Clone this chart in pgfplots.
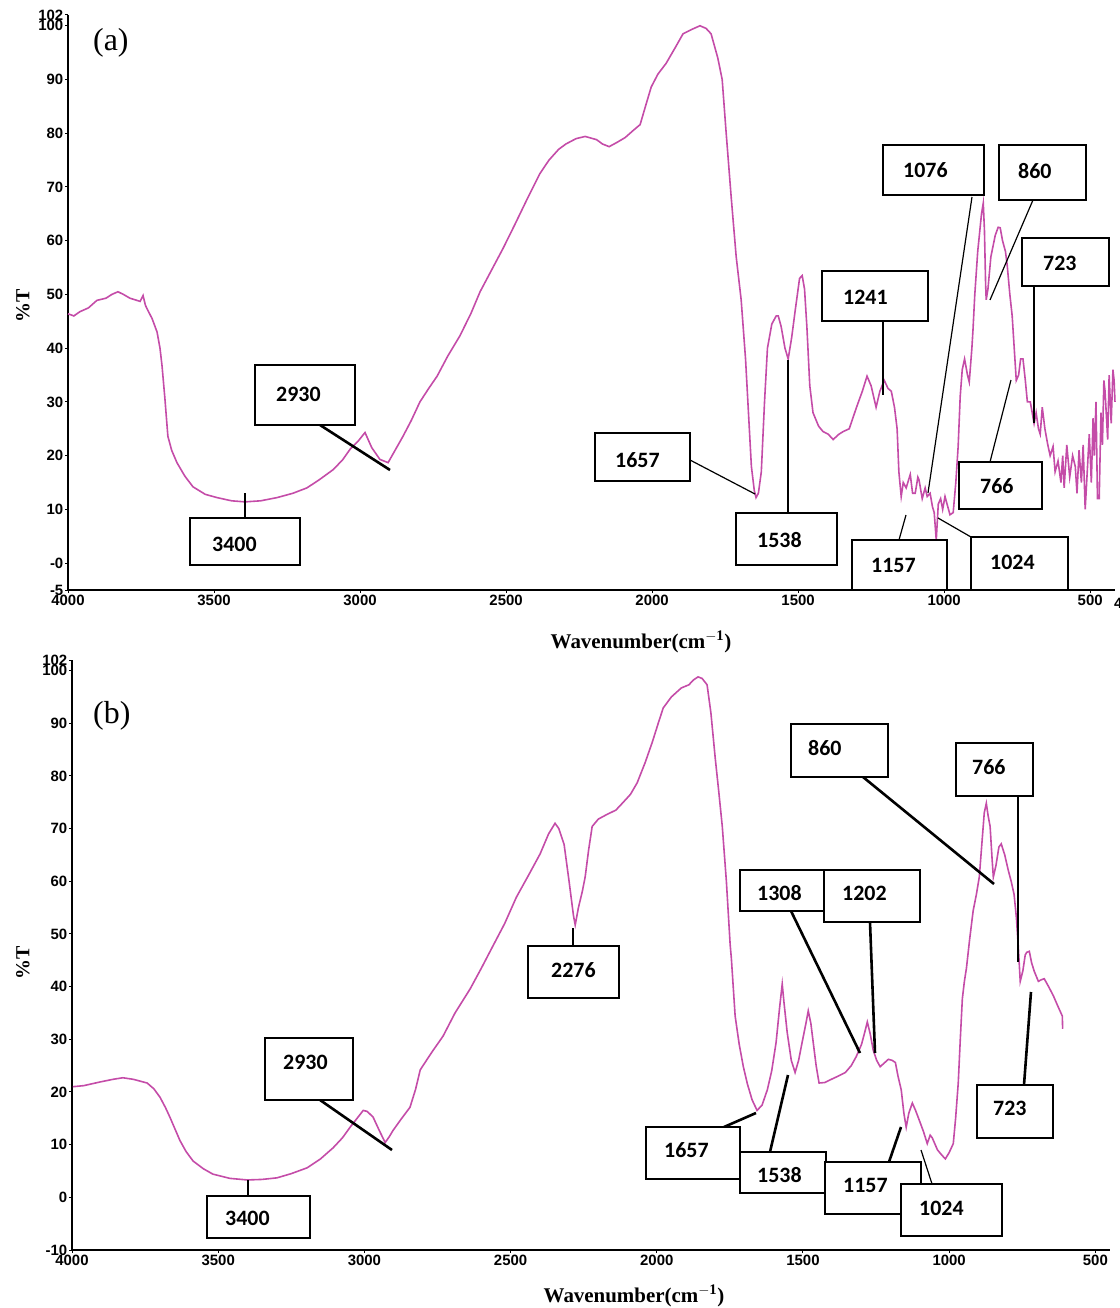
\documentclass[border=0pt]{standalone}
\usepackage{fontspec}
\setmainfont{Liberation Serif}
\newfontfamily\sansf{Liberation Sans}
\newfontfamily\calib{Carlito}
\usepackage{pgfplots}
\usepackage{pgfplotstable}
\pgfplotsset{compat=1.18}
\definecolor{spec}{RGB}{196,76,168}

\pgfplotstableread{
w t
4000 46.4
3980 46.0
3959 46.8
3930 47.5
3901 48.9
3870 49.3
3850 50.0
3829 50.5
3810 50.0
3788 49.3
3770 49.0
3753 48.7
3743 49.8
3735 48.0
3730 47.4
3712 45.5
3695 43
3685 40
3678 36.7
3668 30.5
3658 23.6
3645 21
3627 18.7
3600 16.2
3572 14.2
3530 12.8
3490 12.2
3440 11.6
3394 11.4
3340 11.6
3284 12.2
3230 13
3182 14
3140 15.5
3092 17.4
3060 19.2
3034 21.2
3005 22.8
2983 24.3
2960 21.5
2932 19.3
2904 18.7
2880 21
2853 23.6
2825 26.5
2795 30
2765 32.5
2736 34.8
2700 38.5
2658 42.3
2620 46.5
2589 50.5
2550 54.5
2510 58.6
2470 63
2430 67.5
2384 72.5
2353 75
2320 77
2295 78
2260 79
2229 79.4
2190 78.8
2170 78
2147 77.5
2120 78.3
2092 79.2
2065 80.5
2041 81.6
2020 85.5
2003 88.6
1980 91
1952 93
1920 96
1894 98.5
1865 99.3
1836 100
1815 99.5
1798 98.5
1775 94
1760 90
1747 80.5
1729 68
1712 57
1695 49
1680 38
1670 28
1660 18
1650 13.5
1644 12.2
1636 13
1626 17
1615 30
1605 40
1590 44.5
1575 46
1568 46
1558 44
1545 40
1534 38
1522 42
1510 47
1495 53
1486 53.5
1478 51
1470 44
1460 33
1449 28
1430 25.5
1415 24.5
1397 24
1380 23
1360 24
1345 24.5
1325 25
1300 29
1280 32
1264 34.8
1250 33
1233 29
1220 32
1205 34
1192 32.5
1181 32
1170 29
1161 25
1155 17
1147 12.4
1140 15
1130 14
1116 16.5
1108 13
1099 13
1090 16
1086 15.5
1075 12
1065 14
1058 12.4
1048 13
1040 10.5
1034 9.4
1027 4.3
1020 11
1012 12
1005 10
997 12.4
990 11
980 9
969 9.4
960 15
952 21.7
945 31
938 36
930 38
920 35
914 33.7
905 40
901 43.6
895 50
885 58
872 65
866 67
862 62
858 52
856 49
850 51
840 57
825 61
815 62.5
808 62.4
800 60
790 58
784 55.4
775 50
767 46
760 40
753 34
745 35
738 38
730 38
722 34
715 30
705 30
692 26
685 28
677 25
671 24
664 29
655 25
645 22
637 20
627 21.7
620 17
610 19
600 15
594 20
589 14
580 22
570 16
560 20
551 18
545 13
538 21
530 15
524 22
517 10
510 17
503 24
496 15
490 27
486 20
480 30
475 12
469 12
463 28
458 22
453 34
449 32
440 23
435 35
428 26
422 36
418 34
415 30
}\specA

\pgfplotstableread{
w t
3997 21
3960 21.2
3904 21.9
3860 22.4
3826 22.7
3790 22.4
3743 21.7
3720 20.6
3699 19
3680 17
3665 15.2
3648 13
3631 10.8
3610 8.7
3586 6.9
3550 5.4
3518 4.4
3460 3.6
3401 3.3
3350 3.4
3299 3.7
3250 4.5
3196 5.6
3150 7.3
3107 9.4
3075 11.3
3049 13.3
3025 15
3004 16.5
2990 16.3
2970 15.2
2950 12.8
2929 10.4
2915 11.5
2902 12.7
2875 14.8
2844 17.1
2825 20.5
2809 24.2
2770 27.5
2731 30.6
2690 35
2638 39.6
2600 43.5
2570 46.7
2520 52
2480 57
2440 61
2399 65.2
2370 69
2348 71
2335 70
2317 67
2300 60
2285 53.5
2279 51.7
2268 55
2255 58
2245 60.8
2233 66
2221 70.4
2200 71.8
2170 72.7
2140 73.5
2118 74.8
2090 76.5
2067 78.7
2040 82.5
2016 86.3
1995 90
1978 92.9
1950 95
1916 96.7
1890 97.3
1875 98.2
1859 98.8
1845 98.5
1828 97.3
1815 92
1800 83.3
1788 77
1776 70.4
1762 60
1749 47.9
1745 45.4
1732 34.4
1718 29
1704 24.8
1690 21.5
1674 18.5
1657 16.5
1640 17.5
1622 20.4
1607 24
1592 29.4
1580 36
1571 40.5
1565 37
1554 31.3
1540 26
1527 23.7
1515 26
1503 29.4
1490 33
1482 35.4
1473 33
1465 29.4
1455 25
1445 21.7
1425 21.8
1407 22.3
1380 23
1355 23.7
1335 25
1318 26.7
1300 29
1288 31.5
1280 33.3
1270 31
1260 28
1248 26
1236 24.8
1222 25.5
1208 26.2
1195 26
1184 25.6
1175 23
1164 20.4
1155 16
1147 13.3
1138 16
1126 17.9
1115 16.5
1102 14.6
1088 12.5
1075 10.2
1065 11.8
1058 11.3
1040 9
1025 8
1013 7.3
1000 8.5
986 10.2
978 15
969 21.7
962 30
955 37.7
948 41
941 43.5
930 49
918 54.4
907 57.5
897 60.8
887 68
880 73
873 74.8
867 72.5
860 70.4
853 64
849 60.8
840 63
830 66.5
822 67.1
810 65
798 62.1
788 60
778 57.5
770 53
764 47.9
757 41
748 43
740 46
735 46.5
726 46.7
718 44.5
709 42.9
695 41
685 41.3
675 41.5
660 40
644 38.3
630 36.5
613 34.4
612 32
}\specB

\pgfplotsset{
  ftir/.style={
    scale only axis,
    axis x line=bottom, axis y line=left,
    axis line style={-, line width=1.5bp, black},
    xtick={-4000,-3500,-3000,-2500,-2000,-1500,-1000,-500},
    xticklabels={4000,3500,3000,2500,2000,1500,1000,500},
    tick align=outside, major tick length=3bp,
    tick style={black, line width=1bp},
    ticklabel style={font=\sansf\bfseries\fontsize{15}{15}\selectfont, inner sep=1.5bp},
    clip=false,
  }
}

\tikzset{
  lab/.style={font=\calib\bfseries\fontsize{22}{22}\selectfont, anchor=west, inner sep=0pt},
  bx/.style={draw=black, fill=white, line width=1.3bp},
  thin/.style={line width=1.2bp},
  thick/.style={line width=2.6bp},
}

\begin{document}
\begin{tikzpicture}
\useasboundingbox (0,0) rectangle (1120bp,-1308bp);

\begin{axis}[ftir,
  at={(68bp,-590bp)}, anchor=south west,
  width=1047bp, height=575bp,
  xmin=-4000, xmax=-415, ymin=-5, ymax=102,
  ytick={-5,0,10,20,30,40,50,60,70,80,90,100,102},
  yticklabels={-5,-0,10,20,30,40,50,60,70,80,90,100,102},
]
\addplot[spec, line width=1.6bp] table[x expr=-\thisrow{w}, y=t] {\specA};
\end{axis}

\begin{axis}[ftir,
  at={(72bp,-1250bp)}, anchor=south west,
  width=1038bp, height=590bp,
  xmin=-4000, xmax=-450, ymin=-10, ymax=102,
  ytick={-10,0,10,20,30,40,50,60,70,80,90,100,102},
  yticklabels={-10,0,10,20,30,40,50,60,70,80,90,100,102},
]
\addplot[spec, line width=1.6bp] table[x expr=-\thisrow{w}, y=t] {\specB};
\end{axis}

\begin{scope}[x=1bp, y=-1bp]
% clipped "4" of the 400 label at the right edge of panel (a)
\node[font=\sansf\bfseries\fontsize{15}{15}\selectfont, anchor=west, inner sep=0pt] at (1114,603) {4};
% panel labels
\node[font=\fontsize{32}{32}\selectfont, anchor=west, inner sep=0pt] at (93,43) {(a)};
\node[font=\fontsize{32}{32}\selectfont, anchor=west, inner sep=0pt] at (93,716) {(b)};
% axis titles
\node[font=\bfseries\fontsize{20}{20}\selectfont, rotate=90] at (23,306) {\%T};
\node[font=\bfseries\fontsize{20}{20}\selectfont, rotate=90] at (23,963) {\%T};
\node[font=\bfseries\fontsize{21}{21}\selectfont] at (641,642) {Wavenumber(cm$^{\mathbf{-1}}$)};
\node[font=\bfseries\fontsize{21}{21}\selectfont] at (634,1296) {Wavenumber(cm$^{\mathbf{-1}}$)};

% ---- panel (a) annotations
\draw[thick] (320,425) -- (390,470);
\draw[thick] (245,493) -- (245,518);
\draw[thin] (690,460) -- (755,494);
\draw[thin] (788,513) -- (788,360);
\draw[thin] (883,321) -- (883,395);
\draw[thin] (899,540) -- (906,515);
\draw[thin] (971,537) -- (938,518);
\draw[thin] (990,462) -- (1011,380);
\draw[thin] (972,197) -- (928,493);
\draw[thin] (1033,200) -- (990,300);
\draw[thin] (1034,286) -- (1034,423);

\draw[bx] (255,365) rectangle (355,425); \node[lab] at (276,394) {2930};
\draw[bx] (190,518) rectangle (300,565); \node[lab] at (212,544) {3400};
\draw[bx] (595,433) rectangle (690,481); \node[lab] at (615,460) {1657};
\draw[bx] (736,513) rectangle (837,565); \node[lab] at (757,540) {1538};
\draw[bx] (822,271) rectangle (928,321); \node[lab] at (843,297) {1241};
\draw[bx] (852,540) rectangle (947,590); \node[lab] at (871,565) {1157};
\draw[bx] (971,537) rectangle (1068,590); \node[lab] at (990,562) {1024};
\draw[bx] (959,462) rectangle (1042,509); \node[lab] at (980,486) {766};
\draw[bx] (883,145) rectangle (984,195); \node[lab] at (903,170) {1076};
\draw[bx] (999,145) rectangle (1086,200); \node[lab] at (1018,171) {860};
\draw[bx] (1022,238) rectangle (1109,286); \node[lab] at (1043,263) {723};

% ---- panel (b) annotations
\draw[thick] (320,1100) -- (392,1150);
\draw[thick] (248,1180) -- (248,1196);
\draw[thin] (573,928) -- (573,947);
\draw[thick] (863,777) -- (994,884);
\draw[thick] (1018,796) -- (1018,962);
\draw[thick] (791,911) -- (860,1053);
\draw[thick] (870,922) -- (875,1053);
\draw[thick] (724,1127) -- (756,1113);
\draw[thick] (770,1152) -- (788,1075);
\draw[thick] (889,1162) -- (901,1127);
\draw[thin] (934,1190) -- (921,1150);
\draw[thick] (1024,1085) -- (1031,992);

\draw[bx] (265,1038) rectangle (353,1100); \node[lab] at (283,1062) {2930};
\draw[bx] (207,1196) rectangle (310,1238); \node[lab] at (225,1218) {3400};
\draw[bx] (528,946) rectangle (619,998); \node[lab] at (551,970) {2276};
\draw[bx] (791,724) rectangle (888,777); \node[lab] at (808,748) {860};
\draw[bx] (956,743) rectangle (1033,796); \node[lab] at (972,767) {766};
\draw[bx] (740,870) rectangle (824,911); \node[lab] at (757,893) {1308};
\draw[bx] (824,870) rectangle (920,922); \node[lab] at (842,893) {1202};
\draw[bx] (646,1127) rectangle (740,1179); \node[lab] at (664,1150) {1657};
\draw[bx] (740,1152) rectangle (826,1193); \node[lab] at (757,1175) {1538};
\draw[bx] (825,1162) rectangle (921,1214); \node[lab] at (843,1185) {1157};
\draw[bx] (901,1184) rectangle (1002,1236); \node[lab] at (919,1208) {1024};
\draw[bx] (977,1085) rectangle (1053,1138); \node[lab] at (993,1108) {723};
\end{scope}
\end{tikzpicture}
\end{document}
